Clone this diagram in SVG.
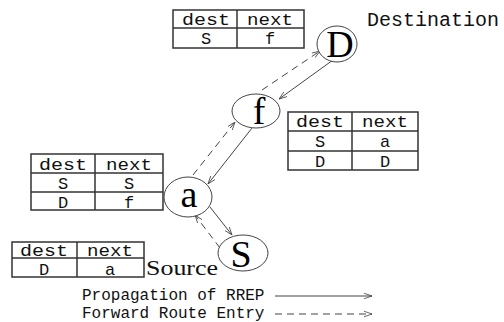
<svg xmlns="http://www.w3.org/2000/svg" width="504" height="322" viewBox="0 0 504 322">
<defs>
<marker id="arr" viewBox="0 0 10 10" refX="10" refY="5" markerWidth="8" markerHeight="8" orient="auto" markerUnits="userSpaceOnUse">
<path d="M0,1.5 L10,5 L0,8.5" fill="none" stroke="#444" stroke-width="1"/>
</marker>
<style>
.tb{fill:#fff;stroke:#333;stroke-width:1.5}
.tl{stroke:#333;stroke-width:1.5}
.tt{font-family:"Liberation Mono","Courier New",monospace;font-size:17px;fill:#111;text-anchor:middle}
.nd{fill:#fff;stroke:#444;stroke-width:1}
.nl{font-family:"Liberation Serif","Times New Roman",serif;font-size:38px;fill:#000;text-anchor:middle}
.ln{stroke:#444;stroke-width:1;fill:none;marker-end:url(#arr)}
.ds{stroke-dasharray:7 5}
.lg{font-family:"Liberation Mono","Courier New",monospace;font-size:16px;fill:#111}
.lb{font-family:"Liberation Mono","Courier New",monospace;font-size:20px;fill:#111}
</style>
</defs>
<rect width="504" height="322" fill="#fff"/>

<g id="connectors">
<line class="ln ds" x1="262" y1="90" x2="320" y2="51"/>
<line class="ln" x1="333" y1="60" x2="279" y2="99"/>
<line class="ln ds" x1="193" y1="175" x2="235" y2="122"/>
<line class="ln" x1="252" y1="128" x2="208" y2="184"/>
<line class="ln" x1="210" y1="207" x2="232" y2="235"/>
<line class="ln ds" x1="220" y1="248" x2="195" y2="215"/>
</g>

<g id="table-D">
<rect class="tb" x="173" y="10" width="131" height="38"/>
<line class="tl" x1="173" y1="28" x2="304" y2="28"/>
<line class="tl" x1="237" y1="10" x2="237" y2="48"/>
<text class="tt" x="206" y="25" textLength="48" lengthAdjust="spacingAndGlyphs">dest</text>
<text class="tt" x="270" y="25" textLength="46" lengthAdjust="spacingAndGlyphs">next</text>
<text class="tt" x="206" y="44">S</text>
<text class="tt" x="270" y="44">f</text>
</g>

<g id="node-D">
<ellipse class="nd" cx="337" cy="44" rx="20" ry="18"/>
<text class="nl" x="340" y="57">D</text>
<text class="lb" x="367" y="26">Destination</text>
</g>

<g id="node-f">
<ellipse class="nd" cx="256" cy="111" rx="24" ry="17"/>
<text class="nl" x="259" y="124">f</text>
</g>

<g id="table-f">
<rect class="tb" x="288" y="112" width="130" height="58"/>
<line class="tl" x1="288" y1="131" x2="418" y2="131"/>
<line class="tl" x1="288" y1="151" x2="418" y2="151"/>
<line class="tl" x1="352" y1="112" x2="352" y2="170"/>
<text class="tt" x="320" y="127" textLength="48" lengthAdjust="spacingAndGlyphs">dest</text>
<text class="tt" x="385" y="127" textLength="46" lengthAdjust="spacingAndGlyphs">next</text>
<text class="tt" x="320" y="147">S</text>
<text class="tt" x="385" y="147">a</text>
<text class="tt" x="320" y="167">D</text>
<text class="tt" x="385" y="167">D</text>
</g>

<g id="table-a">
<rect class="tb" x="31" y="154" width="132" height="56"/>
<line class="tl" x1="31" y1="173" x2="163" y2="173"/>
<line class="tl" x1="31" y1="192" x2="163" y2="192"/>
<line class="tl" x1="95" y1="154" x2="95" y2="210"/>
<text class="tt" x="63" y="170" textLength="48" lengthAdjust="spacingAndGlyphs">dest</text>
<text class="tt" x="129" y="170" textLength="46" lengthAdjust="spacingAndGlyphs">next</text>
<text class="tt" x="63" y="189">S</text>
<text class="tt" x="129" y="189">S</text>
<text class="tt" x="63" y="208">D</text>
<text class="tt" x="129" y="208">f</text>
</g>

<g id="node-a">
<ellipse class="nd" cx="188" cy="197" rx="24" ry="20"/>
<text class="nl" x="189" y="207">a</text>
</g>

<g id="node-S">
<ellipse class="nd" cx="243" cy="253" rx="25" ry="18"/>
<text class="nl" x="241" y="267">S</text>
</g>

<g id="table-S">
<rect class="tb" x="12" y="242" width="132" height="35"/>
<line class="tl" x1="12" y1="258" x2="144" y2="258"/>
<line class="tl" x1="77" y1="242" x2="77" y2="277"/>
<text class="tt" x="44" y="256" textLength="48" lengthAdjust="spacingAndGlyphs">dest</text>
<text class="tt" x="110" y="256" textLength="46" lengthAdjust="spacingAndGlyphs">next</text>
<text class="tt" x="44" y="275">D</text>
<text class="tt" x="110" y="275">a</text>
<text x="146" y="275" font-family="Liberation Serif, Times New Roman, serif" font-size="21" fill="#111" textLength="72" lengthAdjust="spacingAndGlyphs">Source</text>
</g>

<g id="legend">
<text class="lg" x="82" y="300">Propagation of RREP</text>
<text class="lg" x="82" y="318">Forward Route Entry</text>
<line class="ln" x1="275" y1="296" x2="372" y2="296"/>
<line class="ln ds" x1="275" y1="314" x2="372" y2="314"/>
</g>
</svg>
